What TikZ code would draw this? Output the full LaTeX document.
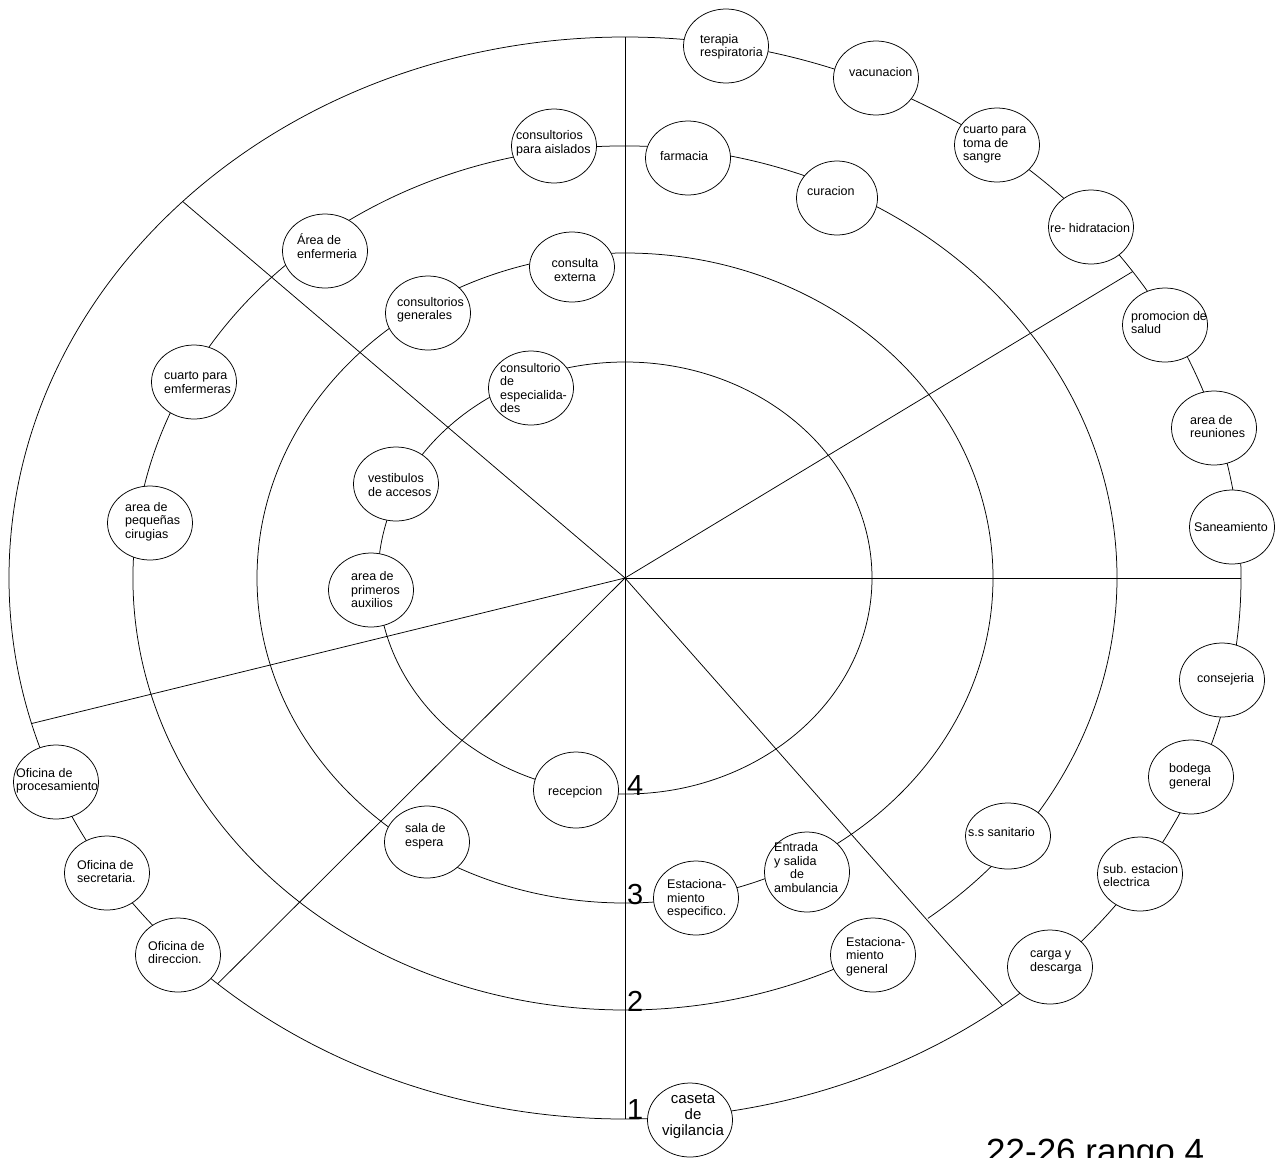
\documentclass[tikz,border=0pt]{standalone}
\usepackage{fontspec}
\setmainfont{Liberation Sans}
\usetikzlibrary{shapes.geometric}
\begin{document}
\begin{tikzpicture}[x=1pt,y=1pt,yscale=-1,
  ring/.style={line width=0.75pt, black},
  spoke/.style={line width=0.75pt, black},
  room/.style={draw, ellipse, fill=white, line width=0.75pt, inner sep=0pt,
               minimum width=85pt, minimum height=74pt},
  txt/.style={font=\fontsize{12.5}{13.5}\selectfont, align=left, inner sep=0pt, anchor=west},
  num/.style={font=\fontsize{29}{30}\selectfont, inner sep=0pt, anchor=base west}]

% page
\fill[white] (0,0) rectangle (1284,1157);
\useasboundingbox (0,0) rectangle (1284,1157);

% centre and the points where the spokes meet the outer ring
\coordinate (c)   at (625,578);
\coordinate (top) at (625,37);
\coordinate (bot) at (625,1119);
\coordinate (rgt) at (1241,578);
\coordinate (nw)  at (182.7,201.5);
\coordinate (ne)  at (1132.6,271.6);
\coordinate (sw1) at (31.7,723.5);
\coordinate (sw2) at (217.6,983.8);
\coordinate (se)  at (1002.5,1005.5);

% the four rings
\draw[ring] (c) ellipse [x radius=616, y radius=541];
\draw[ring] (900.1,936.1) arc [start angle=56, end angle=412, x radius=492, y radius=432];
\draw[ring] (c) ellipse [x radius=368, y radius=325];
\draw[ring] (c) ellipse [x radius=247, y radius=216];

% spokes
\draw[spoke] (top) -- (bot);
\draw[spoke] (c) -- (rgt);
\draw[spoke] (c) -- (nw);
\draw[spoke] (c) -- (ne);
\draw[spoke] (c) -- (sw1);
\draw[spoke] (c) -- (sw2);
\draw[spoke] (c) -- (se);

% ring 1
\node[room] (terapia) at (726,46) {};
\node[room] (vacuna) at (876,78) {};
\node[room] (sangre) at (997,145) {};
\node[room] (hidrata) at (1091,227) {};
\node[room] (promo) at (1165,325) {};
\node[room] (reunion) at (1214,428) {};
\node[room] (sanea) at (1232,527) {};
\node[room] (consej) at (1222,680) {};
\node[room] (bodega) at (1191,777) {};
\node[room] (subest) at (1140,874) {};
\node[room] (carga) at (1050,967) {};
\node[room] (caseta) at (690,1120) {};
\node[room] (direc) at (178,955) {};
\node[room] (secre) at (107,873) {};
\node[room] (proces) at (56,782) {};

% ring 2
\node[room] (aislad) at (554,146) {};
\node[room] (farma) at (688,158) {};
\node[room, minimum width=81pt] (curac) at (837,198) {};
\node[room] (enferm) at (325,251) {};
\node[room] (cuarto) at (194,382) {};
\node[room] (cirug) at (150,523) {};
\node[room, minimum height=66pt] (sanit) at (1008,836) {};
\node[room] (estgen) at (873,955) {};

% ring 3
\node[room, minimum height=70pt] (extern) at (572,267) {};
\node[room] (genera) at (428,313) {};
\node[room, minimum height=72pt] (sala) at (427,842) {};
\node[room] (estesp) at (696,898) {};
\node[room, minimum height=80pt] (ambul) at (807,872) {};

% ring 4
\node[room] (especi) at (531,388) {};
\node[room] (vestib) at (396,484) {};
\node[room] (auxil) at (371,590) {};
\node[room, minimum height=76pt] (recep) at (576,790) {};

% room names
\node[txt] (terapia-t) at (700,47) {terapia\\respiratoria};
\node[txt] (vacuna-t) at (849,72) {vacunacion};
\node[txt] (sangre-t) at (963,144.5) {cuarto para\\toma de\\sangre};
\node[txt] (hidrata-t) at (1050,228) {re- hidratacion};
\node[txt] (promo-t) at (1131,322.5) {promocion de\\salud};
\node[txt] (reunion-t) at (1190,426.5) {area de\\reuniones};
\node[txt] (sanea-t) at (1194,527) {Saneamiento};
\node[txt] (consej-t) at (1197,679) {consejeria};
\node[txt] (bodega-t) at (1169,776.5) {bodega\\general};
\node[txt] (subest-t) at (1103,875.5) {sub. estacion\\electrica};
\node[txt] (carga-t) at (1030,962.5) {carga y\\descarga};
\node[txt, align=center, anchor=center, font=\fontsize{15}{16}\selectfont]
  (caseta-t) at (693,1116) {caseta\\de\\vigilancia};
\node[txt] (direc-t) at (148,952.5) {Oficina de\\direccion.};
\node[txt] (secre-t) at (77,871.5) {Oficina de\\secretaria.};
\node[txt] (proces-t) at (16,781) {Oficina de\\procesamiento};

\node[txt] (aislad-t) at (516,143.5) {consultorios\\para aislados};
\node[txt] (farma-t) at (660,156) {farmacia};
\node[txt] (curac-t) at (807,191) {curacion};
\node[txt] (enferm-t) at (297,246) {Área de\\enfermeria};
\node[txt] (cuarto-t) at (164,382.5) {cuarto para\\emfermeras};
\node[txt] (cirug-t) at (125,521.5) {area de\\pequeñas\\cirugias};
\node[txt] (sanit-t) at (968,832) {s.s sanitario};
\node[txt] (estgen-t) at (846,956.5) {Estaciona-\\miento\\general};

\node[txt, align=center, anchor=center] (extern-t) at (575,270) {consulta\\externa};
\node[txt] (genera-t) at (397,310) {consultorios\\generales};
\node[txt] (sala-t) at (405,836.5) {sala de\\espera};
\node[txt] (estesp-t) at (667,899) {Estaciona-\\miento\\especifico.};
\node[txt] (ambul-t) at (774,867.5) {Entrada\\y salida\\\hspace*{16pt}de\\ambulancia};

\node[txt] (especi-t) at (500,388) {consultorio\\de\\especialida-\\des};
\node[txt] (vestib-t) at (368,485) {vestibulos\\de accesos};
\node[txt] (auxil-t) at (351,590) {area de\\primeros\\auxilios};
\node[txt] (recep-t) at (548,792) {recepcion};

% ring numbers
\node[num] (n4) at (627,795) {4};
\node[num] (n3) at (627,904) {3};
\node[num] (n2) at (627,1011) {2};
\node[num] (n1) at (627,1119) {1};

% caption
\node[inner sep=0pt, anchor=base west, font=\fontsize{35}{36}\selectfont] (cap) at (986,1163) {22-26 rango 4};
\end{tikzpicture}
\end{document}
